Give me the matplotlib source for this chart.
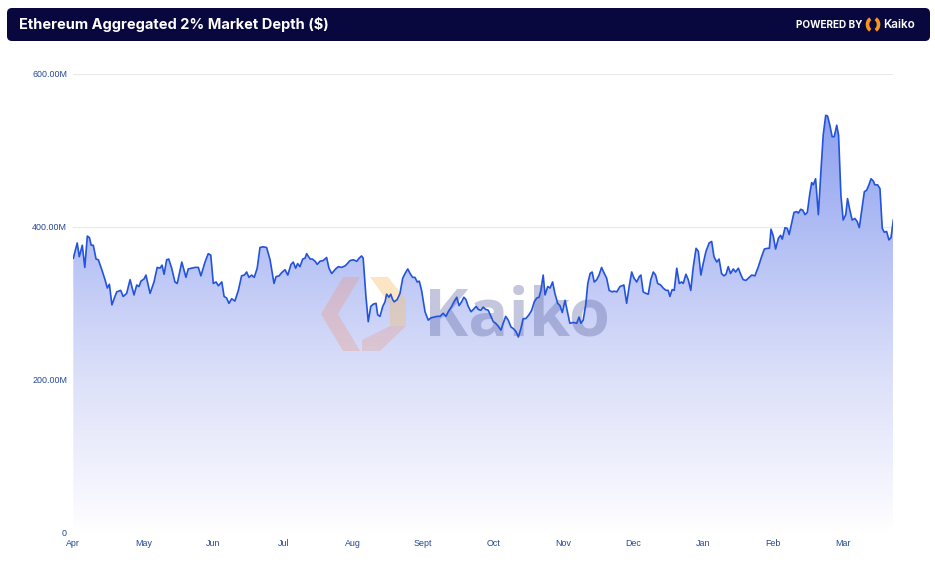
import numpy as np
import matplotlib
matplotlib.use('Agg')
import matplotlib.pyplot as plt
from matplotlib.colors import LinearSegmentedColormap
from matplotlib.patches import FancyBboxPatch, Polygon, Arc

# ---- data: day offset from 1 Apr, depth in millions USD ----
day = [0, 1.7, 2.6, 3.9, 5.0, 6.1, 7.0, 7.8, 8.7, 9.9, 10.9, 12.4, 13.8, 14.8, 15.7, 16.8, 18.1, 18.9,
       20.6, 21.7, 23.2, 24.7, 26.4, 27.6, 28.6, 29.4, 30.8, 31.6, 33.4, 35.1, 36.5, 37.7, 38.6, 39.5,
       40.6, 41.5, 42.8, 44.2, 45.2, 47.2, 49.0, 50.0, 51.5, 52.9, 54.4, 55.5, 57.3, 58.7, 59.8, 60.9,
       62.1, 63.1, 64.6, 65.6, 66.7, 67.7, 68.9, 70.3, 71.8, 73.2, 74.4, 75.4, 76.4, 77.6, 78.7, 80.0,
       81.2, 82.6, 84.1, 85.6, 86.6, 87.3, 88.2, 89.5, 90.6, 92.1, 93.3, 94.7, 95.7, 96.7, 97.6, 98.6,
       99.8, 100.8, 101.5, 103.0, 104.0, 105.2, 106.1, 107.3, 108.7, 110.2, 111.2, 112.4, 114.1, 115.3,
       116.7, 118.2, 118.9, 120.4, 121.8, 123.3, 124.3, 125.4, 126.1, 127.3, 128.3, 129.4, 130.5, 131.7,
       132.4, 133.4, 134.6, 135.6, 136.3, 137.3, 138.1, 138.9, 139.6, 140.9, 142.1, 143.3, 144.3, 145.5,
       146.5, 147.6, 148.6, 149.6, 150.5, 151.5, 153.0, 154.4, 155.5, 156.9, 158.3, 159.5, 160.9, 162.1,
       163.1, 164.6, 165.6, 166.8, 167.8, 168.9, 169.9, 170.8, 171.8, 173.0, 174.0, 175.2, 176.2, 177.3,
       178.3, 179.4, 180.5, 181.7, 182.7, 183.7, 184.9, 186.0, 187.0, 188.1, 189.2, 190.4, 191.4, 192.6,
       193.6, 194.7, 195.7, 196.8, 198.2, 199.4, 200.5, 201.6, 202.6, 203.4, 204.4, 205.2, 206.4, 207.4,
       208.5, 209.5, 210.7, 211.7, 212.7, 213.9, 215.0, 216.0, 217.5, 219.0, 220.0, 220.8, 221.8, 222.9,
       223.8, 224.8, 225.7, 226.6, 227.7, 228.7, 229.8, 231.0, 232.0, 233.1, 234.4, 235.2, 236.4, 237.8,
       239.5, 240.7, 241.8, 242.9, 243.9, 245.1, 246.2, 246.9, 247.9, 249.1, 250.1, 251.2, 252.3, 253.3,
       254.2, 255.5, 256.6, 257.8, 258.8, 259.5, 260.5, 261.4, 262.5, 263.6, 264.6, 265.3, 266.5, 267.5,
       268.6, 269.7, 270.9, 271.9, 273.0, 274.0, 275.2, 276.6, 277.7, 278.7, 279.9, 280.9, 282.0, 283.0,
       283.9, 284.9, 285.9, 287.1, 288.1, 289.3, 290.3, 291.4, 292.6, 294.0, 295.1, 296.5, 298.0, 299.4,
       300.6, 302.0, 302.8, 303.5, 304.5, 305.5, 306.7, 307.7, 308.4, 309.6, 310.6, 311.4, 312.5, 313.5,
       314.7, 315.4, 316.4, 317.3, 318.3, 319.3, 320.4, 321.2, 321.9, 322.9, 324.1, 325.2, 326.2, 327.3,
       328.1, 329.1, 330.1, 331.0, 332.1, 332.9, 333.9, 334.9, 336.0, 336.8, 337.8, 338.8, 340.0, 341.0,
       341.9, 342.9, 344.1, 345.1, 346.1, 347.0, 348.0, 348.7, 349.9, 350.9, 351.9, 352.8, 353.8, 354.8,
       355.7, 356.7]
depth_musd = [359, 379, 361, 376, 347, 388, 386, 376, 376, 358, 357, 344, 331, 320, 325, 298, 309, 315,
              317, 309, 313, 331, 311, 324, 322, 329, 332, 337, 313, 328, 347, 346, 350, 338,
              357, 358, 346, 328, 326, 354, 334, 345, 346, 347, 347, 336, 354, 365, 363, 326,
              328, 323, 328, 309, 307, 300, 306, 303, 317, 336, 337, 341, 334, 337, 334, 346,
              373, 374, 373, 357, 339, 326, 335, 336, 340, 344, 337, 351, 354, 346, 352, 348,
              358, 359, 365, 358, 358, 355, 351, 355, 356, 360, 346, 339, 345, 348,
              347, 349, 351, 356, 357, 355, 359, 362, 359, 309, 276, 296, 299, 300,
              285, 283, 296, 302, 312, 308, 312, 305, 302, 305, 313, 333, 339, 345,
              339, 334, 334, 328, 329, 317, 289, 278, 281, 282, 283, 283, 287, 283,
              289, 296, 302, 308, 297, 302, 308, 305, 296, 289, 292, 296, 292, 291,
              295, 292, 291, 283, 276, 274, 270, 265, 274, 283, 278, 269, 267, 263,
              256, 267, 280, 280, 285, 291, 302, 307, 308, 317, 337, 311, 322, 320,
              328, 313, 300, 297, 288, 304, 288, 274, 275, 274, 282, 274, 278, 298,
              326, 339, 341, 328, 331, 337, 347, 339, 333, 317, 315, 316, 315, 322,
              324, 300, 322, 341, 333, 328, 335, 337, 315, 313, 312, 331, 341, 337,
              326, 324, 320, 317, 317, 309, 318, 317, 346, 326, 328, 326, 338, 331,
              317, 348, 372, 368, 337, 352, 368, 379, 381, 361, 354, 358, 339, 336,
              338, 348, 339, 345, 341, 346, 338, 331, 330, 334, 337, 336, 348, 361,
              371, 372, 372, 397, 388, 371, 385, 389, 384, 399, 398, 390, 405, 419,
              420, 418, 423, 422, 416, 419, 444, 458, 455, 463, 416, 472, 520, 546,
              545, 533, 518, 518, 533, 520, 442, 409, 416, 437, 422, 409, 411, 407,
              399, 420, 446, 448, 455, 463, 460, 455, 455, 450, 398, 393, 394, 383,
              386, 409]
month_labels = ['Apr', 'May', 'Jun', 'Jul', 'Aug', 'Sept', 'Oct', 'Nov', 'Dec', 'Jan', 'Feb', 'Mar']
y_ticks = [0, 200, 400, 600]
y_tick_labels = ['0', '200.00M', '400.00M', '600.00M']
title = 'Ethereum Aggregated 2% Market Depth ($)'

W, H = 935, 567
fig = plt.figure(figsize=(W / 100, H / 100), dpi=100)
fig.patch.set_facecolor('white')

def fx(px):
    return px / W

def fy(py):
    return 1 - py / H

def inch(px, py):
    return (px / 100, (H - py) / 100)

# ---- header ----
hdr = FancyBboxPatch(inch(7, 41), 9.23, 0.33, boxstyle='round,pad=0,rounding_size=0.05',
                     transform=fig.dpi_scale_trans, facecolor='#08083f', edgecolor='none')
fig.add_artist(hdr)
fig.text(fx(19), fy(25), title, color='white', fontsize=10.5, fontweight='bold',
         family='Inter', va='center', ha='left')
fig.text(fx(862), fy(25), 'POWERED BY', color='white', fontsize=7.2, fontweight='bold',
         family='Inter', va='center', ha='right')
for t1, t2 in [(115, 245), (-65, 65)]:
    a = Arc(inch(873, 24.5), 0.11, 0.13, theta1=t1, theta2=t2, lw=2.6, color='#f7941d',
            transform=fig.dpi_scale_trans)
    fig.add_artist(a)
fig.text(fx(883), fy(25), 'Kaiko', color='white', fontsize=8.5, fontweight='semibold',
         family='Inter', va='center', ha='left')

# ---- axes ----
ax = fig.add_axes([fx(73.3), fy(532.7), fx(893.3) - fx(73.3), fy(74) - fy(532.7)])
ax.set_xlim(0, day[-1])
ax.set_ylim(0, 600)
for s in ax.spines.values():
    s.set_visible(False)
ax.set_yticks(y_ticks, y_tick_labels)
ax.set_xticks(np.arange(len(month_labels)) * 30.44, month_labels)
ax.grid(axis='y', color='#e9e9f1', lw=0.8)
ax.grid(axis='x', visible=False)
ax.set_axisbelow(True)
ax.tick_params(axis='both', length=0, labelsize=6.4, labelcolor='#23469a')
ax.tick_params(axis='y', pad=4.5)
ax.tick_params(axis='x', pad=4.5)
for lab in ax.get_xticklabels() + ax.get_yticklabels():
    lab.set_family('Liberation Sans')

# gradient fill
cmap = LinearSegmentedColormap.from_list('g', [(0.0, '#ffffff'), (0.08, '#f6f6fe'), (0.33, '#dde1f9'),
                                               (0.5, '#c7cff7'), (0.67, '#afbcf4'), (0.92, '#8ca1ef'),
                                               (1.0, '#8ca1ef')])
poly = ax.fill_between(day, depth_musd, 0, facecolor='none', edgecolor='none')
grad = np.linspace(0, 1, 400).reshape(-1, 1)
img = ax.imshow(grad, extent=[0, day[-1], 0, 600], origin='lower', aspect='auto', cmap=cmap,
                zorder=1, interpolation='bilinear')
img.set_clip_path(poly.get_paths()[0], transform=ax.transData)

# watermark
wm_left = Polygon([inch(343, 277), inch(360, 277), inch(338, 314), inch(360, 351), inch(343, 351),
                   inch(321, 314)], closed=True, transform=fig.dpi_scale_trans,
                  facecolor='#ec9a86', edgecolor='none', alpha=0.35, zorder=2)
wm_right = Polygon([inch(370, 277), inch(388, 277), inch(406, 300), inch(406, 326), inch(390, 326),
                    inch(390, 305)], closed=True, transform=fig.dpi_scale_trans,
                   facecolor='#f6c070', edgecolor='none', alpha=0.4, zorder=2)
wm_bot = Polygon([inch(362, 340), inch(390, 326), inch(406, 326), inch(380, 351), inch(362, 351)],
                 closed=True, transform=fig.dpi_scale_trans,
                 facecolor='#e8a090', edgecolor='none', alpha=0.35, zorder=2)
for p in (wm_left, wm_right, wm_bot):
    ax.add_patch(p)
ax.text(fx(424), fy(318), 'Kaiko', transform=fig.transFigure, fontsize=48, fontweight='bold',
        family='Open Sans', color='#6a72aa', alpha=0.4, va='center', ha='left', zorder=2)

ax.plot(day, depth_musd, color='#2353dc', lw=1.2, zorder=3, solid_joinstyle='round')

fig.savefig('out.png', dpi=100)
